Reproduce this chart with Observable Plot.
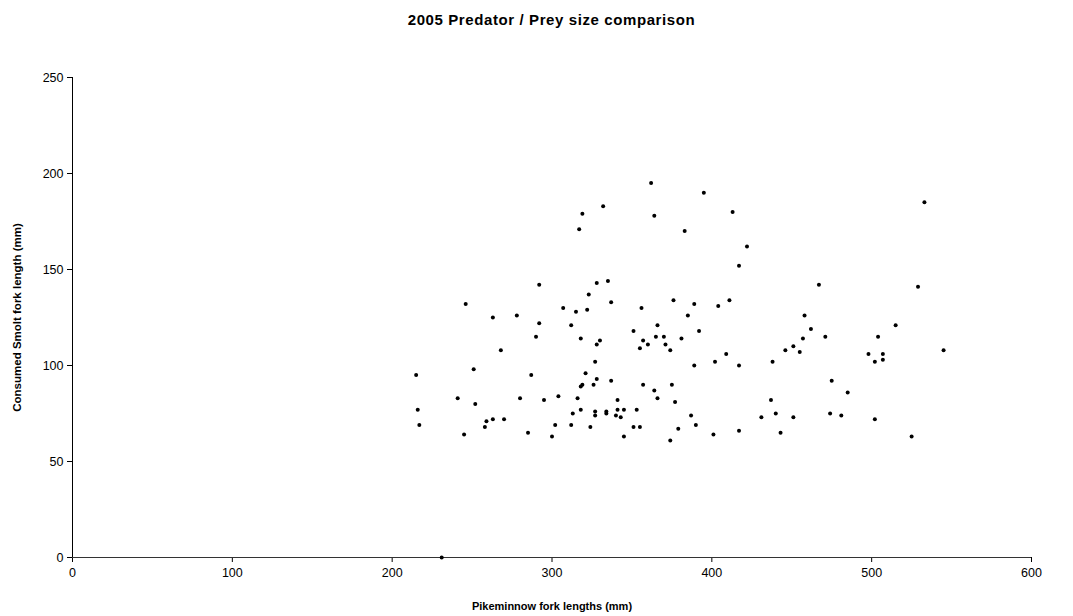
<!DOCTYPE html>
<html>
<head>
<meta charset="utf-8">
<script src="https://cdn.jsdelivr.net/npm/d3@7"></script>
<script src="https://cdn.jsdelivr.net/npm/@observablehq/plot@0.6"></script>
<style>
  html, body { margin: 0; padding: 0; background: #fff; }
  body { width: 1073px; height: 616px; overflow: hidden; font-family: "Liberation Sans", Arial, sans-serif; }
  #title { height: 40px; box-sizing: border-box; padding-top: 11px; padding-left: 72px; width: 1031px;
           text-align: center; font-weight: bold; font-size: 15px; letter-spacing: 0.6px; color: #000; }
</style>
</head>
<body>
<div id="title"></div>
<div id="chart"></div>
<script>
const chartTitle = "2005 Predator / Prey size comparison";
const xLabel = "Pikeminnow fork lengths (mm)";
const yLabel = "Consumed Smolt fork length (mm)";
const xTicks = [0, 100, 200, 300, 400, 500, 600];
const yTicks = [0, 50, 100, 150, 200, 250];

// Pikeminnow fork length (mm)
const pikeminnowLength = [
  215, 216, 217, 231, 332, 319, 317, 292, 328, 335, 323, 337, 246, 307, 322, 263, 278, 292, 315, 312,
  290, 318, 330, 328, 268, 327, 251, 287, 321, 328, 337, 319, 318, 326, 241, 280, 304, 316, 252, 295,
  341, 318, 327, 327, 334, 334, 341, 340, 313, 259, 258, 263, 270, 302, 312, 324, 245, 285, 300, 356,
  376, 389, 404, 411, 385, 458, 366, 351, 392, 462, 357, 360, 355, 365, 370, 371, 374, 381, 457, 446,
  451, 455, 409, 402, 389, 417, 438, 357, 375, 364, 366, 377, 345, 353, 343, 351, 355, 345, 374, 379,
  387, 390, 401, 417, 437, 431, 440, 451, 443, 362, 395, 364, 413, 383, 422, 417, 467, 533, 529, 471,
  515, 504, 545, 498, 507, 502, 507, 475, 485, 474, 481, 502, 525
];
// Consumed smolt fork length (mm)
const smoltLength = [
  95, 77, 69, 0, 183, 179, 171, 142, 143, 144, 137, 133, 132, 130, 129, 125, 126, 122, 128, 121,
  115, 114, 113, 111, 108, 102, 98, 95, 96, 93, 92, 90, 89, 90, 83, 83, 84, 83, 80, 82,
  82, 77, 76, 74, 76, 75, 77, 74, 75, 71, 68, 72, 72, 69, 69, 68, 64, 65, 63, 130,
  134, 132, 131, 134, 126, 126, 121, 118, 118, 119, 113, 111, 109, 115, 115, 111, 108, 114, 114, 108,
  110, 107, 106, 102, 100, 100, 102, 90, 90, 87, 83, 81, 77, 77, 73, 68, 68, 63, 61, 67,
  74, 69, 64, 66, 82, 73, 75, 73, 65, 195, 190, 178, 180, 170, 162, 152, 142, 185, 141, 115,
  121, 115, 108, 106, 106, 102, 103, 92, 86, 75, 74, 72, 63
];

document.getElementById("title").textContent = chartTitle;

const points = pikeminnowLength.map((x, i) => ({x, y: smoltLength[i]}));

const fontStack = "'Liberation Sans', Arial, sans-serif";

const chart = Plot.plot({
  width: 1073,
  height: 576,
  marginTop: 37,
  marginBottom: 59,
  marginLeft: 72,
  marginRight: 42,
  style: {fontFamily: fontStack, fontSize: "12.5px", color: "#000", background: "#fff", overflow: "visible"},
  x: {domain: [0, 600]},
  y: {domain: [0, 250]},
  marks: [
    Plot.axisX({ticks: xTicks, tickSize: 5, tickPadding: 6, label: null, tickFormat: d => String(d)}),
    Plot.axisY({ticks: yTicks, tickSize: 5, tickPadding: 4, label: null, tickFormat: d => String(d)}),
    Plot.ruleY([0], {stroke: "#333", strokeWidth: 1}),
    Plot.ruleX([0], {stroke: "#000", strokeWidth: 1}),
    Plot.dot(points, {x: "x", y: "y", r: 2, fill: "#000", stroke: null}),
    Plot.text([xLabel], {frameAnchor: "bottom", dy: 49, text: d => d, textAnchor: "middle", lineAnchor: "middle",
      fontWeight: "bold", fontSize: 11, fill: "#000"}),
    Plot.text([yLabel], {frameAnchor: "left", dx: -55, rotate: -90, text: d => d, textAnchor: "middle", lineAnchor: "middle",
      fontWeight: "bold", fontSize: 11.5, fill: "#000"})
  ]
});
document.getElementById("chart").appendChild(chart);
</script>
</body>
</html>
